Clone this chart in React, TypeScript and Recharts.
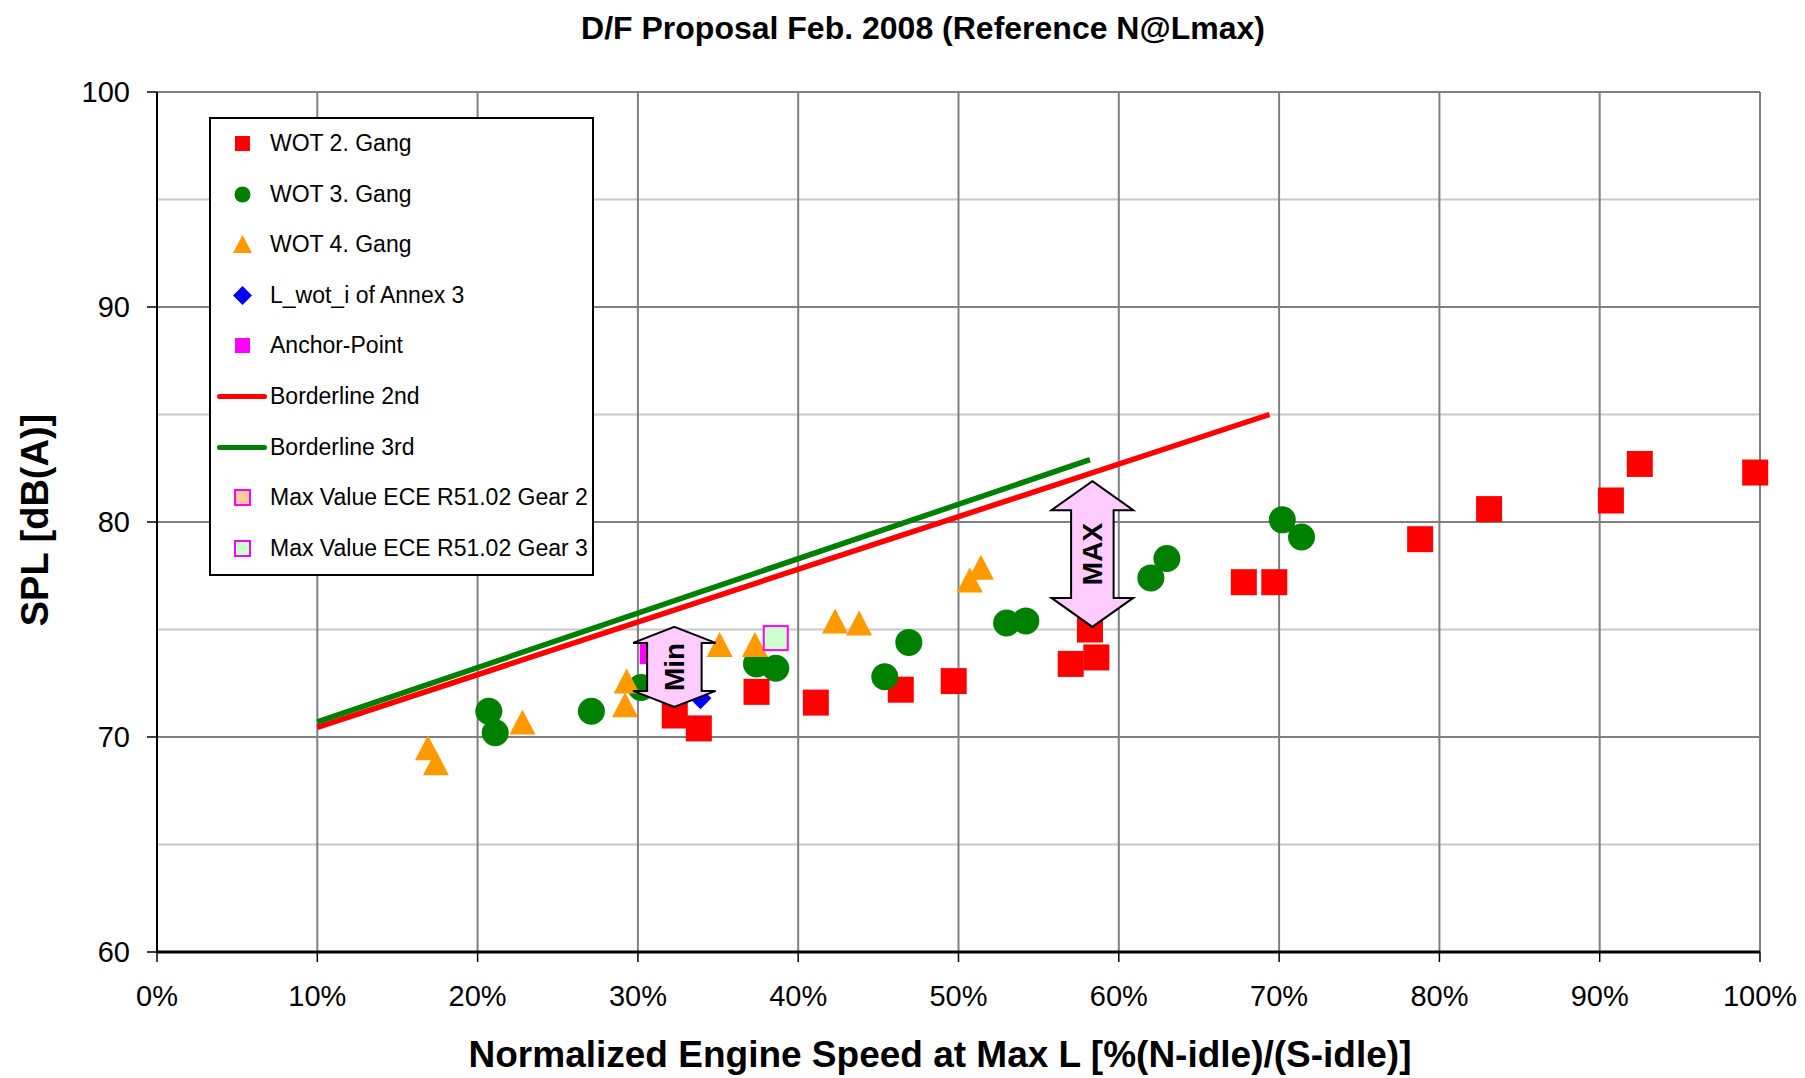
import React from "react";
import {
  ScatterChart, Scatter, XAxis, YAxis, CartesianGrid, ReferenceArea,
} from "recharts";

// values (x in %, y in dB(A))
const wot2 = [
  { x: 32.3, y: 71.0 }, { x: 33.8, y: 70.4 }, { x: 37.4, y: 72.1 }, { x: 41.1, y: 71.6 },
  { x: 46.4, y: 72.2 }, { x: 49.7, y: 72.6 }, { x: 57.0, y: 73.4 }, { x: 58.6, y: 73.7 },
  { x: 58.2, y: 75.0 }, { x: 67.8, y: 77.2 }, { x: 69.7, y: 77.2 }, { x: 78.8, y: 79.2 },
  { x: 83.1, y: 80.6 }, { x: 90.7, y: 81.0 }, { x: 92.5, y: 82.7 }, { x: 99.7, y: 82.3 },
];
const wot3 = [
  { x: 20.7, y: 71.2 }, { x: 21.1, y: 70.2 }, { x: 27.1, y: 71.2 }, { x: 30.2, y: 72.3 },
  { x: 37.4, y: 73.4 }, { x: 38.6, y: 73.2 }, { x: 45.4, y: 72.8 }, { x: 46.9, y: 74.4 },
  { x: 53.0, y: 75.3 }, { x: 54.2, y: 75.4 }, { x: 62.0, y: 77.4 }, { x: 63.0, y: 78.3 },
  { x: 70.2, y: 80.1 }, { x: 71.4, y: 79.3 },
];
const wot4 = [
  { x: 16.9, y: 69.5 }, { x: 17.4, y: 68.8 }, { x: 22.8, y: 70.7 }, { x: 29.2, y: 71.5 },
  { x: 29.3, y: 72.6 }, { x: 35.1, y: 74.3 }, { x: 37.3, y: 74.3 }, { x: 42.3, y: 75.4 },
  { x: 43.8, y: 75.3 }, { x: 50.7, y: 77.3 }, { x: 51.4, y: 77.9 },
];
const lwot = [{ x: 33.9, y: 71.8 }];
const anchor = [{ x: 30.8, y: 73.9 }];
const maxGear2: { x: number; y: number }[] = [];
const maxGear3 = [{ x: 38.6, y: 74.6 }];
const border2nd = [{ x: 10, y: 70.45 }, { x: 69.4, y: 85.0 }];
const border3rd = [{ x: 10, y: 70.7 }, { x: 58.2, y: 82.9 }];

// double arrows: [left head, right head, top tip, bottom tip]
const minArrow = [29.7, 34.85, 75.12, 71.4];
const maxArrow = [55.8, 60.9, 81.9, 75.12];

const xTicks = [0, 10, 20, 30, 40, 50, 60, 70, 80, 90, 100];
const yTicks = [60, 70, 80, 90, 100];
const yMinor = [65, 75, 85, 95];

const legendNames = [
  "WOT 2. Gang", "WOT 3. Gang", "WOT 4. Gang", "L_wot_i of Annex 3", "Anchor-Point",
  "Borderline 2nd", "Borderline 3rd", "Max Value ECE R51.02 Gear 2", "Max Value ECE R51.02 Gear 3",
];

const square = (fill: string, size: number, stroke?: string) => (p: any) => (
  <rect x={p.cx - size / 2} y={p.cy - size / 2} width={size} height={size}
    fill={fill} stroke={stroke || "none"} strokeWidth={stroke ? 2 : 0} />
);
const dot = (fill: string, r: number) => (p: any) => <circle cx={p.cx} cy={p.cy} r={r} fill={fill} />;
const tri = (fill: string, w: number, h: number) => (p: any) => (
  <polygon points={`${p.cx},${p.cy - h / 2} ${p.cx + w / 2},${p.cy + h / 2} ${p.cx - w / 2},${p.cy + h / 2}`} fill={fill} />
);
const diamond = (fill: string, s: number) => (p: any) => (
  <polygon points={`${p.cx},${p.cy - s} ${p.cx + s},${p.cy} ${p.cx},${p.cy + s} ${p.cx - s},${p.cy}`} fill={fill} />
);

function arrowShape(label: string, head: number, shaft: number) {
  return (p: any) => {
    const { x, y, width, height } = p;
    const cx = x + width / 2;
    const hw = width / 2;
    const sw = (width * shaft) / 2;
    const y0 = y;
    const y1 = y + height;
    const pts = [
      [cx, y0], [cx + hw, y0 + head], [cx + sw, y0 + head], [cx + sw, y1 - head],
      [cx + hw, y1 - head], [cx, y1], [cx - hw, y1 - head], [cx - sw, y1 - head],
      [cx - sw, y0 + head], [cx - hw, y0 + head],
    ].map((q) => q.join(",")).join(" ");
    const cy = (y0 + y1) / 2;
    return (
      <g>
        <polygon points={pts} fill="#ffccff" stroke="#000" strokeWidth={2} />
        <text x={cx} y={cy} transform={`rotate(-90 ${cx} ${cy})`} textAnchor="middle"
          dominantBaseline="central" fontWeight="bold" fontSize={28} fill="#000">{label}</text>
      </g>
    );
  };
}

function LegendMarker({ i }: { i: number }) {
  switch (i) {
    case 0: return <rect x={8} y={8} width={15} height={15} fill="#ff0000" />;
    case 1: return <circle cx={15.5} cy={15.5} r={8} fill="#008000" />;
    case 2: return <polygon points="15.5,6 25,24 6,24" fill="#ff9900" />;
    case 3: return <polygon points="15.5,6 25,15.5 15.5,25 6,15.5" fill="#0000ff" />;
    case 4: return <rect x={8} y={8} width={15} height={15} fill="#ff00ff" />;
    case 7: return <rect x={8} y={8} width={15} height={15} fill="#ffcc99" stroke="#ff00ff" strokeWidth={2} />;
    case 8: return <rect x={8} y={8} width={15} height={15} fill="#ccffcc" stroke="#ff00ff" strokeWidth={2} />;
    default: return null;
  }
}

function ChartLegend() {
  return (
    <div style={{
      position: "absolute", left: 209, top: 117, width: 381, height: 455,
      border: "2px solid #000", background: "#fff",
    }}>
      {legendNames.map((name, i) => (
        <div key={name} style={{ position: "absolute", left: 0, top: 24 + i * 50.6 - 15, height: 30, width: 381 }}>
          {i === 5 || i === 6 ? (
            <div style={{
              position: "absolute", left: 6, top: 13, width: 50, height: 5, borderRadius: 2.5,
              background: i === 5 ? "#ff0000" : "#008000",
            }} />
          ) : (
            <svg width={31} height={31} style={{ position: "absolute", left: 16, top: 0 }}>
              <LegendMarker i={i} />
            </svg>
          )}
          <div style={{ position: "absolute", left: 59, top: 0, lineHeight: "30px", fontSize: 23, whiteSpace: "nowrap" }}>
            {name}
          </div>
        </div>
      ))}
    </div>
  );
}

export default function App() {
  return (
    <div style={{
      position: "absolute", left: 0, top: 0, width: 1805, height: 1078, background: "#fff",
      fontFamily: "'Liberation Sans', Arial, sans-serif", color: "#000", overflow: "hidden",
    }}>
      <ScatterChart width={1805} height={1078} margin={{ top: 92, right: 45, bottom: 0, left: 0 }}>
        <CartesianGrid horizontalValues={yMinor} vertical={false} stroke="#c8c8c8" strokeWidth={2} />
        <CartesianGrid stroke="#808080" strokeWidth={2} />
        <XAxis type="number" dataKey="x" domain={[0, 100]} ticks={xTicks} height={126}
          tickFormatter={(v: number) => `${v}%`} tick={{ fontSize: 29, fill: "#000" }}
          tickSize={10} tickMargin={23} axisLine={{ stroke: "#000", strokeWidth: 3 }}
          tickLine={{ stroke: "#000", strokeWidth: 1.5 }} />
        <YAxis type="number" dataKey="y" domain={[60, 100]} ticks={yTicks} width={157}
          tick={{ fontSize: 29, fill: "#000" }} tickSize={10} tickMargin={17}
          axisLine={{ stroke: "#000", strokeWidth: 2 }} tickLine={{ stroke: "#000", strokeWidth: 1.5 }} />
        <Scatter name="Borderline 2nd" data={border2nd} line={{ stroke: "#ff0000", strokeWidth: 5.5 }}
          shape={() => <g />} isAnimationActive={false} />
        <Scatter name="Borderline 3rd" data={border3rd} line={{ stroke: "#008000", strokeWidth: 5.5 }}
          shape={() => <g />} isAnimationActive={false} />
        <Scatter name="WOT 2. Gang" data={wot2} shape={square("#ff0000", 26)} isAnimationActive={false} />
        <Scatter name="WOT 3. Gang" data={wot3} shape={dot("#008000", 13.5)} isAnimationActive={false} />
        <Scatter name="WOT 4. Gang" data={wot4} shape={tri("#ff9900", 26, 25)} isAnimationActive={false} />
        <Scatter name="L_wot_i of Annex 3" data={lwot} shape={diamond("#0000ff", 11)} isAnimationActive={false} />
        <Scatter name="Anchor-Point" data={anchor} shape={square("#ff00ff", 22)} isAnimationActive={false} />
        <Scatter name="Max Value ECE R51.02 Gear 2" data={maxGear2} shape={square("#ffcc99", 24, "#ff00ff")} isAnimationActive={false} />
        <Scatter name="Max Value ECE R51.02 Gear 3" data={maxGear3} shape={square("#ccffcc", 24, "#ff00ff")} isAnimationActive={false} />
        <ReferenceArea x1={minArrow[0]} x2={minArrow[1]} y1={minArrow[3]} y2={minArrow[2]}
          ifOverflow="visible" zIndex={2000} shape={arrowShape("Min", 16, 0.66)} />
        <ReferenceArea x1={maxArrow[0]} x2={maxArrow[1]} y1={maxArrow[3]} y2={maxArrow[2]}
          ifOverflow="visible" zIndex={2000} shape={arrowShape("MAX", 29, 0.52)} />
      </ScatterChart>
      <ChartLegend />
      <div style={{
        position: "absolute", left: 923, top: 28, transform: "translate(-50%, -50%)",
        fontSize: 32, fontWeight: "bold", whiteSpace: "nowrap", lineHeight: 1,
      }}>D/F Proposal Feb. 2008 (Reference N@Lmax)</div>
      <div style={{
        position: "absolute", left: 35, top: 520, transform: "translate(-50%, -50%) rotate(-90deg)",
        fontSize: 38, fontWeight: "bold", whiteSpace: "nowrap", lineHeight: 1,
      }}>SPL [dB(A)]</div>
      <div style={{
        position: "absolute", left: 940, top: 1054, transform: "translate(-50%, -50%)",
        fontSize: 37, fontWeight: "bold", whiteSpace: "nowrap", lineHeight: 1,
      }}>Normalized Engine Speed at Max L [%(N-idle)/(S-idle)]</div>
    </div>
  );
}
